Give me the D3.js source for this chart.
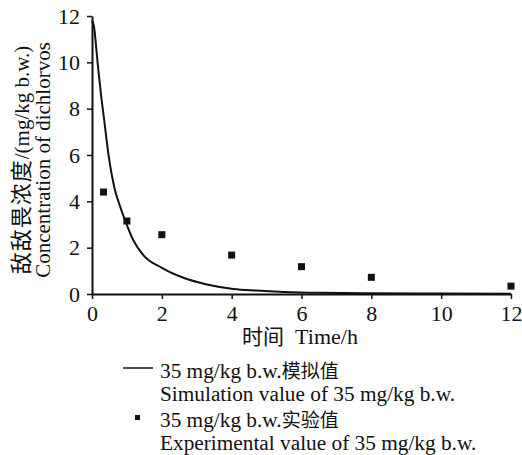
<!DOCTYPE html>
<html>
<head>
<meta charset="utf-8">
<script src="https://cdn.jsdelivr.net/npm/d3@7"></script>
<style>
  body { margin: 0; background: #fff; }
</style>
</head>
<body>
<div id="chart"></div>
<script>
// simulated curve
const simTime = [0, 0.05, 0.16, 0.25, 0.35, 0.47, 0.56, 0.64, 0.8, 0.95, 1.18, 1.47, 2.0, 2.62, 3.29, 4.05, 4.7, 5.5, 6.5, 8, 10, 12];
const simValue = [11.8, 11.6, 10, 8.7, 7.5, 6.04, 5.2, 4.6, 3.8, 3.17, 2.33, 1.68, 1.13, 0.7, 0.41, 0.22, 0.15, 0.09, 0.05, 0.03, 0.02, 0.01];

// experimental points
const expTime = [0.33, 1, 2, 4, 6, 8, 12];
const expValue = [4.4, 3.15, 2.56, 1.68, 1.18, 0.72, 0.34];

const xTicks = [0, 2, 4, 6, 8, 10, 12];
const yTicks = [0, 2, 4, 6, 8, 10, 12];

const SERIF = '"Liberation Serif", "Times New Roman", serif';
const CJK = '"Noto Sans CJK SC", sans-serif';
const INK = "#111";

const width = 522, height = 455;
const margin = { left: 92, top: 16, right: 11, bottom: 161 };

const svg = d3.select("#chart").append("svg")
  .attr("width", width)
  .attr("height", height);

const x = d3.scaleLinear().domain([0, 12]).range([margin.left, width - margin.right]);
const y = d3.scaleLinear().domain([0, 12]).range([height - margin.bottom, margin.top]);

// axes
const xAxis = svg.append("g")
  .attr("transform", `translate(0,${y(0)})`)
  .call(d3.axisBottom(x).tickValues(xTicks).tickSize(5).tickPadding(6).tickSizeOuter(0));
const yAxis = svg.append("g")
  .attr("transform", `translate(${x(0)},0)`)
  .call(d3.axisLeft(y).tickValues(yTicks).tickSize(5).tickPadding(7).tickSizeOuter(0));

[xAxis, yAxis].forEach(a => {
  a.attr("font-family", null);
  a.select(".domain").attr("stroke", INK).attr("stroke-width", 2);
  a.selectAll(".tick line").attr("stroke", INK).attr("stroke-width", 1.5);
  a.selectAll("text")
    .style("font-family", SERIF)
    .style("font-size", "22px")
    .attr("fill", INK);
});

// simulation line
const line = d3.line()
  .x((d, i) => x(simTime[i]))
  .y((d, i) => y(simValue[i]))
  .curve(d3.curveMonotoneX);

svg.append("path")
  .datum(simValue)
  .attr("d", line)
  .attr("fill", "none")
  .attr("stroke", INK)
  .attr("stroke-width", 2);

// experimental markers
const sq = 7;
svg.selectAll("rect.pt")
  .data(expValue)
  .join("rect")
  .attr("class", "pt")
  .attr("x", (d, i) => x(expTime[i]) - sq / 2)
  .attr("y", d => y(d) - sq / 2)
  .attr("width", sq)
  .attr("height", sq)
  .attr("fill", INK);

function addText(sel, parts) {
  parts.forEach(p => {
    sel.append("tspan")
      .style("font-family", p.cjk ? CJK : SERIF)
      .style("font-size", p.size + "px")
      .style("letter-spacing", p.ls ? p.ls + "px" : null)
      .text(p.t);
  });
  return sel;
}

// x title
addText(svg.append("text")
  .attr("x", 300).attr("y", 344)
  .attr("text-anchor", "middle").attr("fill", INK), [
  { t: "时间", cjk: true, size: 21 },
  { t: "\u00a0 Time/h", size: 22 }
]);

// y title, two rotated lines
const yt = svg.append("g").attr("transform", "translate(0,160) rotate(-90)");
addText(yt.append("text")
  .attr("x", 0).attr("y", 29)
  .attr("text-anchor", "middle").attr("fill", INK), [
  { t: "敌敌畏浓度", cjk: true, size: 22, ls: 1 },
  { t: "/(mg/kg b.w.)", size: 21 }
]);
addText(yt.append("text")
  .attr("x", 0).attr("y", 50)
  .attr("text-anchor", "middle").attr("fill", INK), [
  { t: "Concentration of dichlorvos", size: 21 }
]);

// legend
const lg = svg.append("g");
lg.append("line")
  .attr("x1", 123).attr("x2", 153)
  .attr("y1", 368).attr("y2", 368)
  .attr("stroke", INK).attr("stroke-width", 1.5);
addText(lg.append("text").attr("x", 160).attr("y", 378).attr("fill", INK), [
  { t: "35 mg/kg b.w.", size: 21.3 },
  { t: "模拟值", cjk: true, size: 19 }
]);
addText(lg.append("text").attr("x", 160).attr("y", 401).attr("fill", INK), [
  { t: "Simulation value of 35 mg/kg b.w.", size: 21.3 }
]);
lg.append("rect")
  .attr("x", 135).attr("y", 415).attr("width", 5).attr("height", 5)
  .attr("fill", INK);
addText(lg.append("text").attr("x", 160).attr("y", 427).attr("fill", INK), [
  { t: "35 mg/kg b.w.", size: 21.3 },
  { t: "实验值", cjk: true, size: 19 }
]);
addText(lg.append("text").attr("x", 160).attr("y", 450).attr("fill", INK), [
  { t: "Experimental value of 35 mg/kg b.w.", size: 21.3 }
]);
</script>
</body>
</html>
